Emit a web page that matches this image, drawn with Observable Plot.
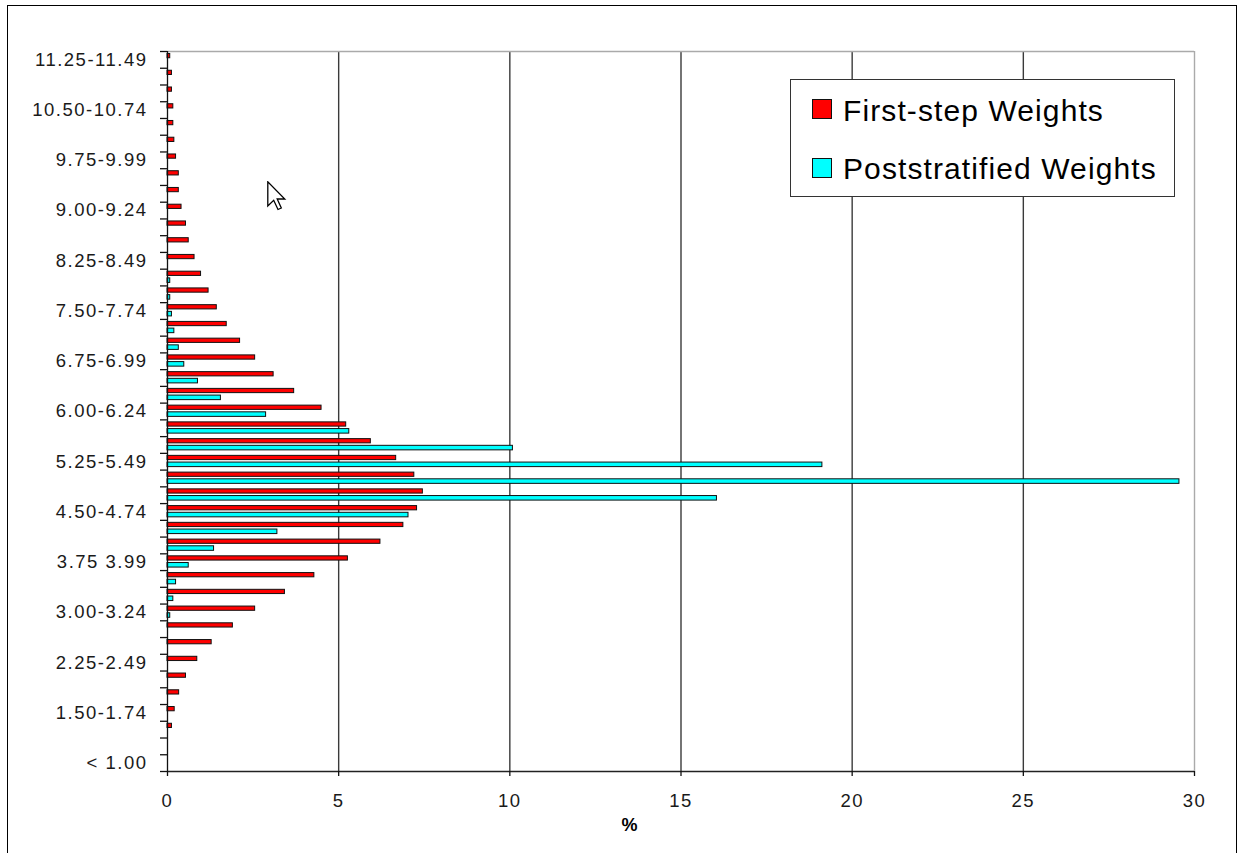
<!DOCTYPE html>
<html>
<head>
<meta charset="utf-8">
<script src="https://cdn.jsdelivr.net/npm/d3@7"></script>
<script src="https://cdn.jsdelivr.net/npm/@observablehq/plot@0.6"></script>
<style>
  html, body { margin: 0; padding: 0; background: #fff; }
  #wrap { position: relative; width: 1241px; height: 853px; overflow: hidden;
          font-family: "Liberation Sans", Arial, sans-serif; }
  #chart { position: absolute; left: 0; top: 0; }
  #chart svg text { letter-spacing: 1.5px; }
  #border { position: absolute; left: 7px; top: 5px; width: 1230px; height: 900px;
            border: 1px solid #000; box-sizing: border-box; pointer-events: none; }
  .legend { position: absolute; left: 790px; top: 79px; width: 385px; height: 118px;
            border: 1px solid #333; background: #fff; box-sizing: border-box; }
  .sw { position: absolute; left: 21px; width: 20px; height: 20px;
        border: 1px solid #111; box-sizing: border-box; }
  .lab { position: absolute; left: 52px; font-size: 30px; line-height: 30px;
         letter-spacing: 1.1px; color: #000; white-space: nowrap; }
  #cursor { position: absolute; left: 267px; top: 181px; }
</style>
</head>
<body>
<div id="wrap">
  <div id="border"></div>
  <div id="chart"></div>
  <div class="legend">
    <div class="sw" style="top:19px;background:#ff0000"></div>
    <div class="lab" style="top:16px">First-step Weights</div>
    <div class="sw" style="top:78px;background:#00ffff"></div>
    <div class="lab" style="top:74px">Poststratified Weights</div>
  </div>
  <svg id="cursor" width="20" height="32" viewBox="0 0 20 32">
    <path d="M0.8,0.8 L0.8,25 L6.7,19.3 L11,28.5 L14.3,27 L10.2,18 L17.8,18 Z"
          fill="#fff" stroke="#000" stroke-width="1.3" stroke-linejoin="miter"/>
  </svg>
</div>
<script>
// Weight classes, bottom to top
const categories = [
  "< 1.00", "1.00-1.24", "1.25-1.49", "1.50-1.74", "1.75-1.99",
  "2.00-2.24", "2.25-2.49", "2.50-2.74", "2.75-2.99", "3.00-3.24",
  "3.25-3.49", "3.50-3.74", "3.75 3.99", "4.00-4.24", "4.25-4.49",
  "4.50-4.74", "4.75-4.99", "5.00-5.24", "5.25-5.49", "5.50-5.74",
  "5.75-5.99", "6.00-6.24", "6.25-6.49", "6.50-6.74", "6.75-6.99",
  "7.00-7.24", "7.25-7.49", "7.50-7.74", "7.75-7.99", "8.00-8.24",
  "8.25-8.49", "8.50-8.74", "8.75-8.99", "9.00-9.24", "9.25-9.49",
  "9.50-9.74", "9.75-9.99", "10.00-10.24", "10.25-10.49", "10.50-10.74",
  "10.75-10.99", "11.00-11.24", "11.25-11.49"
];

// Percent of cases in each class
const firstStep = [
  0, 0, 0.13, 0.21, 0.34, 0.54, 0.87, 1.29, 1.91, 2.56,
  3.43, 4.29, 5.27, 6.22, 6.89, 7.29, 7.46, 7.21, 6.68, 5.94,
  5.22, 4.50, 3.70, 3.10, 2.56, 2.12, 1.73, 1.44, 1.20, 0.98,
  0.79, 0.62, 0.54, 0.41, 0.33, 0.33, 0.25, 0.20, 0.17, 0.17,
  0.13, 0.13, 0.08
];
const poststratified = [
  0, 0, 0, 0, 0, 0, 0, 0, 0, 0.08,
  0.17, 0.25, 0.62, 1.36, 3.21, 7.04, 16.05, 29.56, 19.13, 10.09,
  5.31, 2.88, 1.56, 0.89, 0.49, 0.33, 0.20, 0.13, 0.08, 0.08,
  0, 0, 0, 0, 0, 0, 0, 0, 0, 0,
  0, 0, 0
];

const xTicks = [0, 5, 10, 15, 20, 25, 30];
const gridValues = [5, 10, 15, 20, 25];
const labelStep = 3;

const rows = categories.map((c, i) => ({cat: c, i, first: firstStep[i], post: poststratified[i]}));
const n = categories.length;
const labelled = d3.range(0, n, labelStep);

const chart = Plot.plot({
  width: 1241,
  height: 853,
  marginLeft: 167,
  marginRight: 47,
  marginTop: 51,
  marginBottom: 82,
  style: {fontFamily: "'Liberation Sans', Arial, sans-serif", fontSize: "18.5px", color: "#111", background: "transparent"},
  x: {domain: [0, 30], label: null},
  y: {domain: [0, n], label: null},
  marks: [
    Plot.ruleX(gridValues, {stroke: "#3a3a3a", strokeWidth: 1.4}),
    Plot.ruleX([30], {stroke: "#aaa", strokeWidth: 1.4}),
    Plot.ruleY([n], {stroke: "#aaa", strokeWidth: 1.4}),
    Plot.rect(rows.filter(d => d.first > 0), {
      x1: () => 0, x2: "first", y1: "i", y2: d => d.i + 1,
      insetTop: 2.5, insetBottom: 10,
      fill: "#ff0000", stroke: "#111", strokeWidth: 1
    }),
    Plot.rect(rows.filter(d => d.post > 0), {
      x1: () => 0, x2: "post", y1: "i", y2: d => d.i + 1,
      insetTop: 9.2, insetBottom: 3,
      fill: "#00ffff", stroke: "#111", strokeWidth: 1
    }),
    Plot.ruleX([0], {stroke: "#111", strokeWidth: 1.3}),
    Plot.ruleY([0], {stroke: "#222", strokeWidth: 1.3}),
    // boundary tick marks between classes
    Plot.axisY(d3.range(0, n + 1), {tickSize: 7, tickFormat: () => "", stroke: "#111", strokeWidth: 1.3}),
    // every third class is labelled at its centre
    Plot.axisY(labelled.map(i => i + 0.5), {
      tickSize: 0, tickPadding: 20,
      tickFormat: v => categories[Math.round(v - 0.5)],
      fill: "#1a1a1a"
    }),
    Plot.axisX(xTicks, {tickSize: 5, tickPadding: 17, stroke: "#111", strokeWidth: 1.3, fill: "#1a1a1a", label: null}),
    Plot.text(["%"], {
      text: d => d, frameAnchor: "bottom-left", dx: 454, dy: 54,
      fontWeight: "bold", fontSize: 18, fill: "#000", lineAnchor: "middle"
    })
  ]
});

document.getElementById("chart").appendChild(chart);
</script>
</body>
</html>
